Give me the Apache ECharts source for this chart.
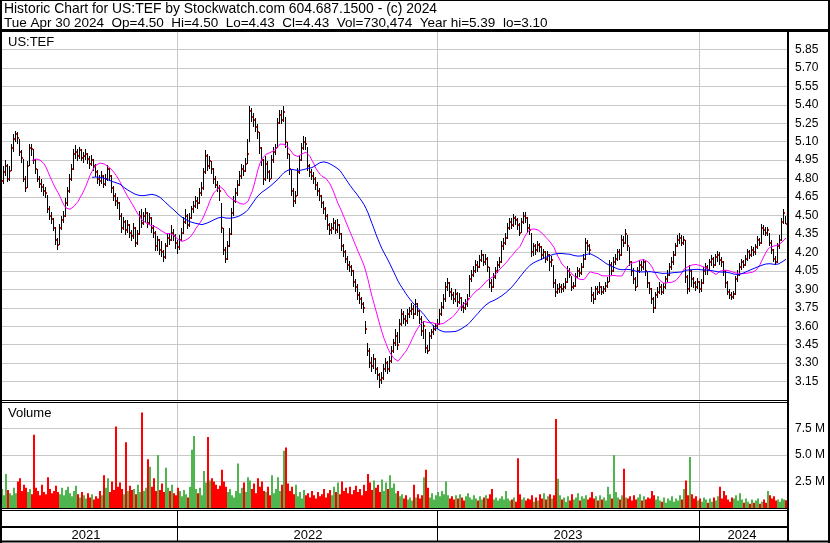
<!DOCTYPE html>
<html><head><meta charset="utf-8">
<script src="https://cdn.jsdelivr.net/npm/echarts@6/dist/echarts.min.js"></script>
<style>html,body{margin:0;padding:0;background:#fff}#c{width:830px;height:543px}</style>
</head><body><div id="c"></div>
<script>
// Each bar = two trading days, from May 2021 to Apr 30 2024
const closes = [
4.78,4.85,4.90,4.80,4.86,5.05,5.12,5.16,5.13,5.02,
4.97,4.80,4.72,4.90,5.05,5.04,4.95,4.88,4.80,4.76,
4.73,4.70,4.68,4.55,4.50,4.47,4.40,4.30,4.26,4.40,
4.46,4.50,4.60,4.70,4.80,4.88,5.00,5.02,4.98,5.03,
4.97,4.98,5.00,4.96,4.92,4.95,4.90,4.85,4.80,4.78,
4.82,4.76,4.80,4.88,4.82,4.72,4.66,4.62,4.60,4.50,
4.40,4.45,4.38,4.42,4.36,4.33,
4.40,4.28,4.35,4.50,4.44,4.50,4.52,4.44,4.48,4.40,
4.36,4.25,4.30,4.22,4.20,4.16,4.25,4.32,4.30,4.36,
4.33,4.28,4.24,4.30,4.36,4.45,4.50,4.42,4.48,4.55,
4.58,4.62,4.60,4.68,4.72,4.85,4.98,4.90,4.94,4.88,
4.80,4.75,4.72,4.70,4.40,4.22,4.15,4.25,4.35,4.52,
4.62,4.68,4.75,4.82,4.88,4.86,4.92,5.00,5.35,5.30,
5.28,5.22,5.18,5.05,4.95,4.80,
4.92,4.85,4.80,4.95,5.02,5.05,5.25,5.32,5.28,5.34,
5.10,5.00,4.88,4.70,4.62,4.66,4.85,4.95,5.05,5.10,
5.08,4.90,4.85,4.82,4.80,4.75,4.70,4.66,4.60,4.55,
4.50,4.42,4.38,4.40,4.44,4.38,4.42,4.35,4.25,4.20,
4.15,4.10,4.08,4.05,3.96,3.92,3.85,3.82,3.78,3.75,
3.58,3.40,3.30,3.28,3.33,3.25,3.20,3.16,3.18,3.25,
3.30,3.25,3.32,3.40,3.46,3.52,
3.45,3.62,3.70,3.66,3.64,3.70,3.72,3.74,3.70,3.78,
3.72,3.66,3.56,3.60,3.42,3.40,3.52,3.55,3.58,3.60,
3.62,3.70,3.76,3.82,3.92,3.95,3.88,3.85,3.82,3.86,
3.80,3.83,3.76,3.75,3.78,3.82,3.98,4.02,4.05,4.10,
4.08,4.14,4.18,4.12,4.15,4.08,3.95,3.92,4.00,4.05,
4.10,4.12,4.25,4.28,4.32,4.40,4.45,4.42,4.48,4.46,
4.42,4.36,4.45,4.50,4.48,4.40,
4.38,4.20,4.25,4.22,4.26,4.24,4.18,4.20,4.15,4.18,
4.12,4.14,3.95,3.88,3.90,3.92,3.90,3.92,3.96,4.05,
4.02,3.92,3.93,4.00,4.05,4.03,4.08,4.15,4.28,4.25,
4.22,3.85,3.82,3.90,3.88,3.92,3.88,3.90,3.93,3.96,
4.10,4.05,4.12,4.15,4.20,4.18,4.30,4.28,4.35,4.25,
4.12,4.05,3.98,3.92,4.05,4.10,4.08,4.12,4.05,3.95,
3.90,3.82,3.75,3.85,3.88,3.92,
3.88,3.92,3.98,4.02,4.08,4.12,4.18,4.25,4.30,4.32,
4.28,4.30,4.00,3.90,4.05,3.98,3.95,3.92,3.96,3.90,
3.95,4.05,4.08,4.06,4.12,4.15,4.10,4.16,4.18,4.14,
4.12,4.05,3.95,3.88,3.85,3.84,3.86,3.98,4.02,4.08,
4.12,4.10,4.15,4.20,4.18,4.22,4.20,4.24,4.30,4.28,
4.40,4.38,4.36,4.38,4.28,4.22,4.15,4.12,4.25,4.30,
4.45,4.52,4.43
];
const highs = [
4.88,4.90,4.95,4.92,4.90,5.08,5.16,5.19,5.18,5.12,
5.03,4.96,4.82,4.94,5.08,5.08,5.04,4.96,4.88,4.82,
4.80,4.76,4.73,4.67,4.58,4.53,4.48,4.41,4.32,4.43,
4.50,4.54,4.64,4.73,4.84,4.92,5.04,5.07,5.04,5.06,
5.04,5.02,5.04,5.01,4.98,4.99,4.96,4.92,4.87,4.83,
4.86,4.83,4.84,4.91,4.89,4.83,4.74,4.68,4.65,4.61,
4.52,4.49,4.46,4.46,4.43,4.38,
4.44,4.41,4.38,4.54,4.55,4.53,4.56,4.53,4.52,4.49,
4.42,4.37,4.33,4.31,4.29,4.22,4.28,4.35,4.36,4.42,
4.39,4.35,4.30,4.34,4.40,4.49,4.55,4.51,4.52,4.58,
4.62,4.66,4.65,4.72,4.77,4.89,5.03,5.00,4.98,4.94,
4.89,4.82,4.78,4.75,4.60,4.40,4.24,4.29,4.40,4.56,
4.66,4.72,4.79,4.86,4.92,4.91,4.97,5.12,5.39,5.37,
5.33,5.29,5.24,5.18,5.06,4.96,
4.98,4.94,4.87,4.99,5.06,5.08,5.29,5.36,5.36,5.39,
5.30,5.10,5.00,4.88,4.72,4.70,4.89,4.99,5.09,5.15,
5.14,5.06,4.92,4.88,4.85,4.81,4.77,4.72,4.67,4.62,
4.57,4.51,4.44,4.44,4.48,4.46,4.47,4.43,4.36,4.27,
4.22,4.17,4.13,4.10,4.06,3.98,3.94,3.88,3.84,3.80,
3.64,3.46,3.42,3.35,3.37,3.34,3.27,3.22,3.23,3.29,
3.34,3.32,3.36,3.44,3.50,3.58,
3.55,3.66,3.74,3.72,3.69,3.74,3.76,3.79,3.77,3.82,
3.79,3.73,3.68,3.64,3.58,3.45,3.55,3.58,3.61,3.63,
3.66,3.74,3.80,3.86,3.96,3.99,3.96,3.91,3.88,3.90,
3.88,3.87,3.84,3.80,3.82,3.86,4.02,4.06,4.09,4.14,
4.13,4.18,4.22,4.19,4.19,4.16,4.08,3.98,4.03,4.08,
4.13,4.16,4.29,4.32,4.36,4.44,4.48,4.48,4.51,4.50,
4.48,4.44,4.48,4.53,4.53,4.49,
4.43,4.36,4.28,4.27,4.29,4.28,4.25,4.23,4.21,4.21,
4.19,4.17,4.10,3.98,3.94,3.95,3.94,3.95,3.99,4.09,
4.07,4.01,3.96,4.03,4.08,4.07,4.11,4.19,4.32,4.30,
4.27,3.92,3.88,3.93,3.93,3.96,3.93,3.93,3.96,4.00,
4.14,4.12,4.16,4.19,4.23,4.23,4.34,4.33,4.39,4.34,
4.24,4.13,4.07,4.00,4.08,4.14,4.13,4.15,4.13,4.04,
3.96,3.91,3.84,3.88,3.92,3.96,
3.94,3.95,4.01,4.06,4.11,4.16,4.21,4.28,4.34,4.36,
4.34,4.33,4.30,4.02,4.10,4.06,4.00,3.97,3.99,3.97,
3.98,4.08,4.11,4.10,4.15,4.18,4.16,4.19,4.21,4.20,
4.16,4.13,4.06,3.97,3.90,3.88,3.89,4.01,4.06,4.11,
4.15,4.14,4.18,4.23,4.22,4.25,4.24,4.27,4.33,4.32,
4.43,4.42,4.41,4.41,4.36,4.30,4.23,4.17,4.28,4.34,
4.48,4.55,4.50
];
const lows = [
4.74,4.76,4.82,4.77,4.78,4.86,5.02,5.10,5.08,4.98,
4.93,4.77,4.69,4.72,4.90,4.98,4.92,4.84,4.77,4.72,
4.69,4.66,4.64,4.52,4.46,4.43,4.37,4.26,4.22,4.26,
4.38,4.44,4.49,4.58,4.68,4.78,4.87,4.96,4.94,4.96,
4.94,4.93,4.95,4.92,4.88,4.90,4.86,4.81,4.76,4.74,
4.76,4.72,4.74,4.78,4.78,4.68,4.62,4.58,4.55,4.46,
4.36,4.38,4.34,4.36,4.32,4.29,
4.31,4.24,4.26,4.34,4.40,4.42,4.45,4.40,4.42,4.36,
4.32,4.21,4.21,4.18,4.16,4.12,4.15,4.24,4.26,4.29,
4.29,4.23,4.19,4.22,4.29,4.35,4.43,4.39,4.41,4.47,
4.52,4.56,4.55,4.59,4.66,4.71,4.84,4.86,4.88,4.84,
4.76,4.72,4.69,4.62,4.36,4.18,4.11,4.14,4.24,4.34,
4.50,4.60,4.66,4.74,4.80,4.82,4.85,4.92,5.10,5.26,
5.22,5.18,5.12,5.00,4.90,4.75,
4.78,4.80,4.77,4.80,4.93,4.99,5.05,5.24,5.24,5.26,
5.05,4.96,4.83,4.66,4.57,4.59,4.66,4.84,4.94,5.03,
5.03,4.86,4.81,4.79,4.76,4.71,4.66,4.62,4.56,4.51,
4.46,4.38,4.34,4.35,4.38,4.35,4.36,4.31,4.21,4.16,
4.11,4.06,4.04,4.01,3.92,3.88,3.81,3.78,3.74,3.71,
3.54,3.36,3.26,3.23,3.25,3.21,3.16,3.10,3.13,3.16,
3.23,3.21,3.23,3.30,3.38,3.44,
3.41,3.46,3.60,3.62,3.60,3.62,3.67,3.69,3.66,3.69,
3.68,3.62,3.52,3.50,3.38,3.37,3.40,3.50,3.53,3.56,
3.58,3.61,3.68,3.74,3.80,3.89,3.84,3.81,3.78,3.80,
3.76,3.78,3.72,3.71,3.73,3.76,3.84,3.96,4.00,4.03,
4.04,4.07,4.12,4.09,4.10,4.04,3.91,3.88,3.91,3.98,
4.03,4.07,4.11,4.22,4.26,4.31,4.38,4.39,4.41,4.42,
4.38,4.33,4.36,4.43,4.44,4.36,
4.34,4.16,4.17,4.18,4.20,4.20,4.14,4.15,4.11,4.13,
4.05,4.08,3.91,3.84,3.86,3.87,3.87,3.88,3.90,3.95,
3.99,3.89,3.90,3.92,3.99,4.00,4.02,4.07,4.14,4.21,
4.18,3.80,3.78,3.81,3.85,3.86,3.85,3.86,3.88,3.91,
3.96,4.02,4.04,4.10,4.13,4.14,4.17,4.24,4.27,4.21,
4.09,4.01,3.94,3.89,3.92,4.03,4.05,4.06,4.01,3.91,
3.86,3.78,3.71,3.74,3.83,3.86,
3.85,3.86,3.90,3.96,4.01,4.06,4.10,4.17,4.24,4.27,
4.25,4.26,3.95,3.86,3.88,3.92,3.91,3.89,3.90,3.87,
3.88,3.94,4.02,4.02,4.05,4.09,4.07,4.09,4.12,4.10,
4.08,4.01,3.91,3.85,3.82,3.81,3.82,3.85,3.96,4.01,
4.06,4.07,4.09,4.13,4.15,4.16,4.17,4.18,4.23,4.25,
4.27,4.34,4.33,4.33,4.25,4.19,4.12,4.10,4.11,4.23,
4.29,4.43,4.43
];
// volume in millions of shares
const volumes = [
1.8,1.2,3.2,1.7,1.4,1.2,1.9,1.4,2.5,2.8,
1.6,2.2,1.9,1.5,1.8,1.3,6.9,1.9,1.6,1.2,
2.2,1.5,1.3,2.9,1.8,1.4,1.6,2.1,1.5,1.3,
1.9,1.2,1.7,2.0,1.4,1.1,1.6,2.1,1.3,1.0,
1.5,1.2,0.9,1.4,1.0,1.3,0.8,1.1,0.9,1.6,
1.2,3.1,1.9,2.8,1.5,2.5,1.7,7.7,2.0,2.4,
1.8,1.3,6.2,1.6,2.1,1.7,
1.8,1.3,2.2,1.5,9.0,1.6,1.9,4.6,3.9,2.0,
2.8,1.6,5.0,1.7,2.3,1.5,3.8,1.9,1.6,2.2,
1.4,1.2,1.9,1.6,1.1,1.7,1.3,1.0,2.0,5.5,
6.8,1.8,1.4,1.9,1.2,3.5,2.4,6.7,2.6,2.8,
2.5,2.2,1.8,2.1,3.6,2.5,2.0,1.5,1.8,1.2,
1.0,1.6,4.2,1.4,1.9,2.4,1.5,2.9,2.6,1.8,
2.3,1.4,2.8,2.0,2.5,1.6,
1.5,2.0,1.2,3.1,1.4,1.8,2.9,1.6,2.2,5.4,
5.7,2.3,1.6,2.0,1.3,2.2,1.1,1.5,0.9,1.7,
1.2,1.4,1.0,1.6,1.2,0.9,1.5,1.1,1.3,1.8,
1.0,1.4,1.7,1.2,2.0,1.5,2.4,1.3,2.5,1.6,
1.9,1.4,2.0,1.3,1.7,2.1,1.5,1.8,1.2,2.2,
1.6,3.2,2.4,1.7,2.6,1.9,2.2,1.5,2.7,1.6,
2.4,1.8,3.1,1.9,2.3,1.4,
1.6,1.1,1.3,0.9,1.2,0.8,1.0,0.7,2.2,1.0,
1.3,0.9,1.2,2.9,3.6,1.9,1.0,1.4,0.8,1.2,
1.5,1.1,1.6,1.3,2.5,1.2,0.9,1.1,0.8,1.2,
0.9,1.3,1.0,0.7,1.1,1.4,1.0,0.8,1.2,0.9,
0.7,1.1,0.8,1.0,1.2,0.9,1.3,1.8,0.8,1.0,
0.7,0.9,1.1,0.8,1.6,0.9,0.7,0.8,1.0,0.6,
4.7,1.3,0.8,1.0,0.7,0.9,
0.8,1.2,0.6,1.0,0.7,1.3,0.9,1.4,0.8,1.1,
1.3,0.9,1.2,8.4,2.75,1.2,0.8,1.0,0.6,1.1,
0.7,1.3,0.8,1.0,1.4,0.7,1.1,0.9,1.2,0.8,
1.0,1.5,0.9,1.1,0.7,1.2,0.8,1.0,0.7,2.0,
1.3,0.9,5.0,1.5,1.0,0.8,1.2,3.7,1.0,0.9,
1.1,0.7,1.2,0.8,1.0,1.3,0.7,1.1,0.8,1.0,
0.9,1.6,1.2,0.8,1.1,0.7,
0.6,1.0,0.5,0.9,0.7,1.1,0.6,0.9,0.7,1.2,
0.8,1.8,2.6,1.2,4.8,1.3,0.9,1.1,0.7,0.9,
0.6,1.0,0.8,0.5,0.9,0.6,1.0,0.7,1.1,2.0,
0.9,1.6,1.2,0.8,0.6,1.0,0.9,1.2,0.7,1.4,
0.8,0.5,0.9,0.6,0.4,0.8,0.5,0.7,0.9,0.4,
0.6,0.8,0.5,1.6,1.2,0.9,1.1,0.7,0.8,0.6,
0.9,0.8,0.73
];
const yearLabels = ['2021', '2022', '2023', '2024'];
const yearStarts = [0, 88, 218, 349];   // bar index where each year begins
const maShort = 16, maLong = 46;        // moving-average lengths in bars
const headerLine1 = 'Historic Chart for US:TEF by Stockwatch.com 604.687.1500 - (c) 2024';
const headerLine2 = 'Tue Apr 30 2024  Op=4.50  Hi=4.50  Lo=4.43  Cl=4.43  Vol=730,474  Year hi=5.39  lo=3.10';
const symbol = 'US:TEF';

const N = closes.length;
const cats = closes.map((_, i) => String(i));
function sma(arr, n) {
  return arr.map((_, i) => {
    if (i < n - 1) return '-';
    let s = 0; for (let k = i - n + 1; k <= i; k++) s += arr[k];
    return +(s / n).toFixed(4);
  });
}
const bounds = yearStarts.slice(1);
const labelIdx = [42, 153, 283, 370];
const GREEN = '#4fb54f', RED = '#ff0000', GRAY = '#a8a8a8';
function volColor(i) {
  if (i === 0) return GREEN;
  const d = closes[i] - closes[i - 1];
  return d > 0 ? GREEN : (d < 0 ? RED : GRAY);
}
const GRID = '#c8c8c8';
const FONT = '"Liberation Sans", Arial, sans-serif';

const chart = echarts.init(document.getElementById('c'), null, {renderer: 'canvas'});
const hiddenX = (gi) => ({
  gridIndex: gi, type: 'category', data: cats, boundaryGap: true,
  axisLine: {show: false}, axisTick: {show: false}, axisLabel: {show: false},
  splitLine: {show: true, interval: (idx) => bounds.includes(idx), lineStyle: {color: GRID, width: 1}}
});
const line = (x1, y1, x2, y2, w) => ({type: 'line', z: 100, silent: true,
  shape: {x1, y1, x2, y2}, style: {stroke: '#000', lineWidth: w}});
const txt = (x, y, text, size) => ({type: 'text', z: 100, silent: true, x, y,
  style: {text, font: size + 'px ' + FONT, fill: '#000', verticalAlign: 'middle', align: 'left'}});

chart.setOption({
  animation: false,
  backgroundColor: '#fff',
  grid: [
    {left: 1, right: 43, top: 31, height: 369, outerBoundsMode: 'none', containLabel: false},
    {left: 1, right: 43, top: 402, height: 106, outerBoundsMode: 'none', containLabel: false},
    {left: 1, right: 43, top: 510, height: 17, outerBoundsMode: 'none', containLabel: false}
  ],
  xAxis: [
    hiddenX(0), hiddenX(1),
    {gridIndex: 2, type: 'category', data: cats, boundaryGap: true,
     axisLine: {show: true, lineStyle: {color: '#000', width: 2}},
     axisTick: {show: true, interval: (idx) => bounds.includes(idx), length: 14, lineStyle: {color: '#000', width: 1}},
     axisLabel: {show: true, interval: (idx) => labelIdx.includes(idx), margin: 2,
       formatter: (v, idx) => yearLabels[labelIdx.indexOf(idx)] || '', color: '#000', fontSize: 13, fontFamily: FONT},
     splitLine: {show: true, interval: (idx) => bounds.includes(idx), lineStyle: {color: '#000', width: 1}}}
  ],
  yAxis: [
    {gridIndex: 0, type: 'value', position: 'right', min: 3, max: 6, interval: 0.15,
     axisLine: {show: false}, axisTick: {show: false},
     axisLabel: {margin: 8, color: '#000', fontSize: 12, fontFamily: FONT, showMinLabel: false, showMaxLabel: false,
       formatter: (v) => v.toFixed(2)},
     splitLine: {show: true, lineStyle: {color: GRID, width: 1}}},
    {gridIndex: 1, type: 'value', position: 'right', min: 0, max: 10, interval: 2.5,
     axisLine: {show: false}, axisTick: {show: false},
     axisLabel: {margin: 8, color: '#000', fontSize: 12, fontFamily: FONT, showMinLabel: false, showMaxLabel: false,
       formatter: (v) => v.toFixed(1) + ' M'},
     splitLine: {show: true, lineStyle: {color: GRID, width: 1}}},
    {gridIndex: 2, type: 'value', show: false, min: 0, max: 1}
  ],
  series: [
    {type: 'custom', xAxisIndex: 0, yAxisIndex: 0, z: 3,
     data: closes.map((c, i) => [i, highs[i], lows[i], c]),
     encode: {x: 0, y: [1, 2, 3]},
     renderItem: (params, api) => {
       const i = api.value(0);
       const pH = api.coord([i, api.value(1)]);
       const pL = api.coord([i, api.value(2)]);
       const pC = api.coord([i, api.value(3)]);
       const x = Math.round(pH[0]);
       const yT = Math.round(pH[1]), yB = Math.round(pL[1]), yc = Math.round(pC[1]);
       return {type: 'group', children: [
         {type: 'rect', shape: {x: x - 1, y: yT, width: 1, height: Math.max(1, yB - yT)}, style: {fill: '#000'}},
         {type: 'rect', shape: {x: x, y: yc - 1, width: 1, height: 2}, style: {fill: RED}}
       ]};
     }},
    {type: 'line', xAxisIndex: 0, yAxisIndex: 0, z: 4, data: sma(closes, maShort), showSymbol: false, symbol: 'none',
     lineStyle: {color: '#ff00ff', width: 1}, itemStyle: {color: '#ff00ff'}},
    {type: 'line', xAxisIndex: 0, yAxisIndex: 0, z: 4, data: sma(closes, maLong), showSymbol: false, symbol: 'none',
     lineStyle: {color: '#0000ff', width: 1}, itemStyle: {color: '#0000ff'}},
    {type: 'bar', xAxisIndex: 1, yAxisIndex: 1, barCategoryGap: '0%', barGap: '0%',
     data: volumes.map((v, i) => ({value: v, itemStyle: {color: volColor(i)}}))}
  ],
  graphic: [
    line(0, 0.5, 830, 0.5, 1),
    line(1, 0, 1, 543, 2),
    line(829, 0, 829, 543, 2),
    line(0, 541.5, 830, 541.5, 2),
    line(0, 30.5, 830, 30.5, 3),
    line(788, 31, 788, 542, 2),
    line(0, 400.5, 788, 400.5, 1),
    line(0, 402.5, 788, 402.5, 1),
    line(0, 508.5, 788, 508.5, 1),
    line(0, 510.5, 788, 510.5, 1),
    txt(4, 9, headerLine1, 13.9),
    txt(4, 23, headerLine2, 13.5),
    txt(8, 42, symbol, 13),
    txt(8, 413, 'Volume', 13)
  ]
});
</script>
</body></html>
